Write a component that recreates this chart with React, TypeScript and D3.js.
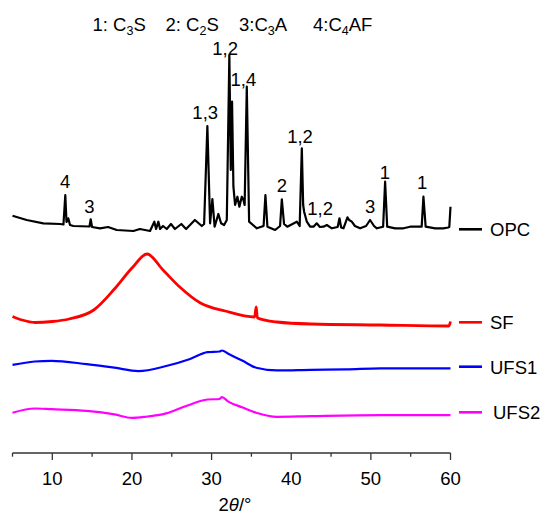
import React from "react";
import * as d3 from "d3";

// ---- data (2θ in degrees, intensity in arbitrary units incl. stacking offset) ----
const opc: [number, number][] = [
  [5.0, 237.3], [6.78, 233], [8.87, 229.7], [10.97, 229], [11.4, 228.5], [11.63, 258], [11.78, 231],
  [12.0, 234.7], [12.22, 228], [12.64, 227], [14.67, 226.5], [14.82, 233.7], [14.99, 226], [15.99, 224.7],
  [17.0, 226], [18.09, 223], [20.18, 222], [21.0, 224], [22.27, 222], [22.81, 231.3], [23.03, 224],
  [23.32, 231.3], [23.53, 224], [23.9, 227], [24.37, 224], [24.9, 229], [25.4, 224], [26.2, 229],
  [26.8, 224], [27.9, 233], [28.77, 227], [29.06, 229], [29.47, 327], [29.81, 229.7], [30.1, 254],
  [30.38, 226.3], [30.85, 239], [31.19, 229.7], [31.57, 228], [31.91, 233], [32.23, 398], [32.41, 283],
  [32.57, 351.3], [32.74, 266.3], [32.95, 248], [33.24, 256.3], [33.49, 246.3], [33.79, 256.3],
  [34.0, 253], [34.15, 248], [34.42, 366.3], [34.71, 231.3], [35.68, 224.7], [36.53, 227], [36.76, 258],
  [37.01, 226.3], [37.98, 223], [38.6, 227], [38.82, 253.7], [39.1, 229], [39.5, 226.3], [40.7, 231.3],
  [41.06, 227], [41.33, 304.7], [41.5, 248], [41.62, 241.3], [41.96, 231.3], [42.37, 226.3], [42.8, 226.3],
  [43.2, 229.7], [43.6, 226], [44.05, 226.3], [44.47, 228], [45.1, 224.7], [45.83, 226], [46.06, 234.7],
  [46.27, 225.5], [46.56, 224.7], [47.06, 235.7], [47.27, 233], [47.6, 231.3], [48.0, 227], [48.65, 224.7],
  [49.4, 227], [49.9, 233], [50.4, 227], [50.75, 224.7], [51.54, 226.3], [51.79, 271.3], [52.05, 226.3],
  [53.05, 224.7], [54.1, 224.7], [54.94, 226.3], [55.78, 226.3], [56.38, 226.3], [56.6, 256.3],
  [56.88, 226.3], [58.07, 224.7], [59.1, 224.7], [59.7, 225.5], [59.85, 226], [60.0, 246.3],
];

const sf: [number, number][] = [
  [5.0, 136.5], [6.2, 133], [7.8, 130.5], [10, 131.5], [12.1, 134], [15.2, 143], [17.8, 164],
  [20, 185], [21.9, 199], [23.9, 183], [26, 166], [28.6, 150], [31.7, 142], [35.4, 136], [35.6, 146],
  [35.75, 135], [38.2, 131], [42.5, 129], [51.2, 128], [59.8, 127], [60, 131.5],
];

const ufs1: [number, number][] = [
  [5.0, 88.1], [7.8, 91.5], [9.9, 92.2], [14.3, 88.8], [17.8, 85.3], [20.8, 81.9], [24.3, 87],
  [27.3, 94], [29.5, 100.9], [31.0, 101.5], [31.3, 102.5], [32.1, 99.2], [33.9, 92.2], [35.6, 85.3],
  [38.2, 82.6], [42.5, 83.2], [46.9, 83.6], [51.2, 84.6], [55.6, 84.6], [60, 84.6],
];

const ufs2: [number, number][] = [
  [5.0, 40.3], [7.8, 44.5], [9.9, 43.8], [14.3, 42.1], [17.8, 38.6], [20, 35.1], [21.7, 36.2],
  [24.3, 39.6], [26.9, 47.3], [29.5, 53.5], [31.0, 54], [31.3, 55.9], [32.1, 51.4], [33.9, 45.5],
  [35.6, 40.3], [38.2, 36.2], [42.5, 36.9], [51.2, 37.9], [60, 37.9],
];

const seriesNames = ["OPC", "SF", "UFS1", "UFS2"];
const seriesColors = ["#000000", "#ff0000", "#0000ff", "#ff00ff"];
const legendLevels = [223.7, 130.7, 86.3, 40.7];

const peakLabels: { t: number; v: number; label: string }[] = [
  { t: 11.6, v: 264.7, label: "4" },
  { t: 14.65, v: 240.3, label: "3" },
  { t: 29.2, v: 334, label: "1,3" },
  { t: 31.7, v: 398.5, label: "1,2" },
  { t: 34.0, v: 367, label: "1,4" },
  { t: 38.82, v: 261.3, label: "2" },
  { t: 41.1, v: 310.5, label: "1,2" },
  { t: 43.63, v: 238, label: "1,2" },
  { t: 49.91, v: 239.7, label: "3" },
  { t: 51.75, v: 274.5, label: "1" },
  { t: 56.44, v: 263.7, label: "1" },
];

const xMajor = [10, 20, 30, 40, 50, 60];
const xMinor = [5, 15, 25, 35, 45, 55];

const phases = [
  { n: "1: C", sub: "3", rest: "S", x: 92.5 },
  { n: "2: C", sub: "2", rest: "S", x: 165.5 },
  { n: "3:C", sub: "3", rest: "A", x: 239 },
  { n: "4:C", sub: "4", rest: "AF", x: 313 },
];

export default function App() {
  const W = 542, H = 516;
  const x = d3.scaleLinear().domain([5, 60]).range([12.5, 450.5]);
  const y = d3.scaleLinear().domain([0, 420]).range([453, 33]);
  const lineLin = d3.line<[number, number]>().x(d => x(d[0])).y(d => y(d[1]));
  const lineSmooth = d3
    .line<[number, number]>()
    .x(d => x(d[0]))
    .y(d => y(d[1]))
    .curve(d3.curveMonotoneX);
  const all = [opc, sf, ufs1, ufs2];
  const font = "'Liberation Sans', Arial, Helvetica, sans-serif";
  const fs = 18.5;
  const axisY = 453;

  return (
    <svg width={W} height={H} style={{ position: "absolute", left: 0, top: 0, background: "#fff" }}
      fontFamily={font}>
      {/* phase key */}
      {phases.map((p, i) => (
        <text key={i} x={p.x} y={30.5} fontSize={fs} fill="#000">
          {p.n}
          <tspan fontSize={12.5} dy={4}>{p.sub}</tspan>
          <tspan dy={-4}>{p.rest}</tspan>
        </text>
      ))}

      {/* series */}
      {all.map((s, i) => (
        <path key={i} d={(i === 0 ? lineLin : lineSmooth)(s) || ""} fill="none"
          stroke={seriesColors[i]} strokeWidth={i === 0 ? 2.2 : i === 1 ? 2.8 : 2.2}
          strokeLinejoin="round" />
      ))}

      {/* peak labels */}
      {peakLabels.map((p, i) => (
        <text key={i} x={x(p.t)} y={y(p.v)} fontSize={fs} textAnchor="middle" fill="#000">
          {p.label}
        </text>
      ))}

      {/* legend */}
      {seriesNames.map((n, i) => {
        const ly = y(legendLevels[i]);
        return (
          <g key={n}>
            <line x1={459} x2={482} y1={ly} y2={ly} stroke={seriesColors[i]} strokeWidth={2.6} />
            <text x={i === 3 ? 493 : 490} y={ly + 6.8} fontSize={fs} fill="#000">{n}</text>
          </g>
        );
      })}

      {/* x axis */}
      <line x1={x(5)} x2={x(60)} y1={axisY} y2={axisY} stroke="#333" strokeWidth={1.3} />
      {xMajor.map(t => (
        <g key={"M" + t}>
          <line x1={x(t)} x2={x(t)} y1={axisY} y2={axisY + 7} stroke="#333" strokeWidth={1.3} />
          <text x={x(t)} y={484.5} fontSize={fs} textAnchor="middle" fill="#000">{t}</text>
        </g>
      ))}
      {xMinor.map(t => (
        <line key={"m" + t} x1={x(t)} x2={x(t)} y1={axisY} y2={axisY + 3.7} stroke="#333" strokeWidth={1.3} />
      ))}
      <text x={235} y={511} fontSize={fs} textAnchor="middle" fill="#000">
        2<tspan fontStyle="italic">θ</tspan>/°
      </text>
    </svg>
  );
}
